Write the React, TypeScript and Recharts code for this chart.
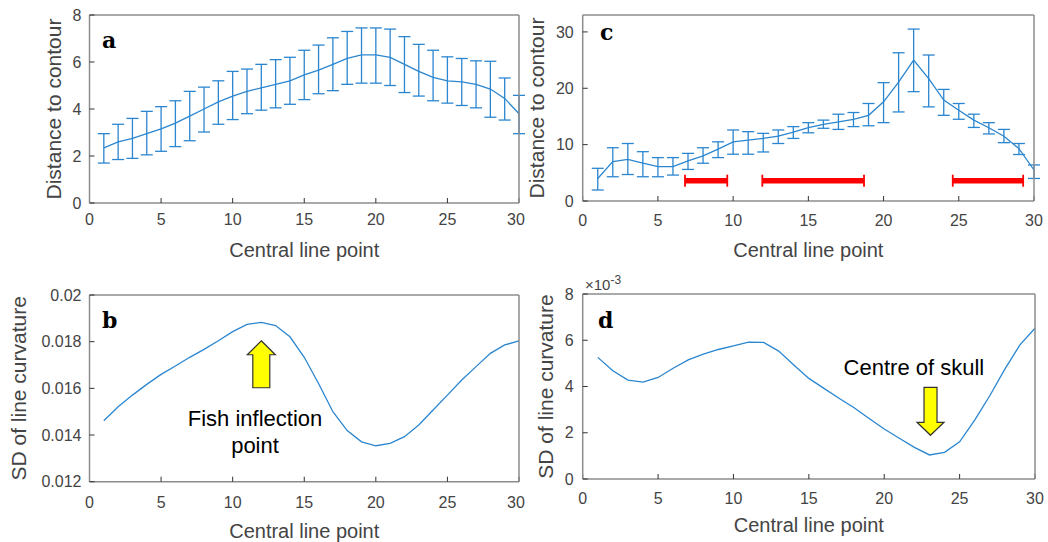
import React from "react";
import {
  LineChart,
  Line,
  XAxis,
  YAxis,
  ErrorBar,
  ReferenceLine,
  ReferenceDot,
} from "recharts";

// central line points (x categories)
const centralPoints = [
  1, 2, 3, 4, 5, 6, 7, 8, 9, 10, 11, 12, 13, 14, 15, 16, 17, 18, 19, 20, 21,
  22, 23, 24, 25, 26, 27, 28, 29, 30,
];
const xTicks = [0, 5, 10, 15, 20, 25, 30];

// panel a: distance to contour (mean, lower, upper)
const distMeanA = [
  2.35, 2.6, 2.75, 2.95, 3.15, 3.4, 3.7, 4.0, 4.3, 4.55, 4.75, 4.9, 5.05, 5.2,
  5.45, 5.65, 5.9, 6.15, 6.3, 6.3, 6.2, 5.9, 5.6, 5.35, 5.2, 5.15, 5.05, 4.85,
  4.45, 3.8,
];
const distLowA = [
  1.7, 1.85, 1.9, 2.05, 2.2, 2.4, 2.65, 3.02, 3.35, 3.55, 3.8, 3.95, 4.05, 4.2,
  4.4, 4.65, 4.78, 5.05, 5.1, 5.1, 5.0, 4.7, 4.55, 4.35, 4.25, 4.15, 4.05, 3.65,
  3.53, 2.95,
];
const distHighA = [
  2.95, 3.35, 3.6, 3.9, 4.1, 4.35, 4.75, 4.93, 5.2, 5.6, 5.7, 5.9, 6.1, 6.2,
  6.5, 6.72, 7.03, 7.3, 7.45, 7.45, 7.4, 7.08, 6.75, 6.5, 6.22, 6.15, 6.05,
  6.03, 5.32, 4.58,
];
const yTicksA = [0, 2, 4, 6, 8];

// panel c: distance to contour (mean, lower, upper)
const distMeanC = [
  4.0, 7.0, 7.4, 6.7, 6.1, 6.1, 7.1, 8.0, 9.2, 10.5, 10.8, 11.1, 11.5, 12.2,
  13.0, 13.6, 14.05, 14.5, 15.2, 17.6, 21.1, 25.0, 21.7, 17.9, 16.1, 14.35,
  13.0, 11.5, 9.3, 5.5,
];
const distLowC = [
  1.95, 4.3, 4.7, 4.3, 4.3, 4.6, 5.6, 6.7, 7.7, 8.3, 8.3, 8.7, 10.2, 11.1, 12.1,
  12.9, 12.7, 13.2, 13.35, 13.9, 15.8, 19.4, 16.7, 15.2, 14.5, 13.05, 11.9,
  10.35, 8.25, 4.0,
];
const distHighC = [
  5.8, 9.45, 10.2, 8.75, 7.7, 7.7, 8.45, 9.45, 10.5, 12.6, 12.3, 12.0, 12.6,
  13.2, 13.9, 14.35, 15.4, 15.7, 17.3, 21.0, 26.3, 30.5, 25.9, 19.8, 17.3, 15.4,
  13.9, 12.7, 10.2, 6.4,
];
const yTicksC = [0, 10, 20, 30];

// red segments in panel c
const redBarStart = [6.8, 11.94, 24.6];
const redBarEnd = [9.61, 18.7, 29.28];
const redBarLevel = 3.6;

// panel b: SD of line curvature
const curvB = [
  0.01461, 0.01521, 0.01571, 0.01617, 0.0166, 0.01696, 0.01733, 0.01767,
  0.01804, 0.01843, 0.01874, 0.01883, 0.01869, 0.01821, 0.01733, 0.01621,
  0.015, 0.01419, 0.01371, 0.01354, 0.01364, 0.01393, 0.01443, 0.01507,
  0.01571, 0.01636, 0.01693, 0.0175, 0.01786, 0.01803,
];
const yTicksB = [0.012, 0.014, 0.016, 0.018, 0.02];

// panel d: SD of line curvature, in units of 1e-3
const curvD = [
  5.26, 4.68, 4.28, 4.19, 4.39, 4.79, 5.15, 5.4, 5.6, 5.76, 5.92, 5.91, 5.53,
  4.93, 4.35, 3.92, 3.49, 3.08, 2.62, 2.16, 1.76, 1.37, 1.04, 1.15, 1.61, 2.55,
  3.6, 4.75, 5.8, 6.52,
];
const yTicksD = [0, 2, 4, 6, 8];

const rowsA = centralPoints.map((x, i) => ({
  x,
  mean: distMeanA[i],
  err: [distMeanA[i] - distLowA[i], distHighA[i] - distMeanA[i]],
}));
const rowsC = centralPoints.map((x, i) => ({
  x,
  mean: distMeanC[i],
  err: [distMeanC[i] - distLowC[i], distHighC[i] - distMeanC[i]],
}));
const rowsB = centralPoints.map((x, i) => ({ x, sd: curvB[i] }));
const rowsD = centralPoints.map((x, i) => ({ x, sd: curvD[i] }));

const FONT = '"Liberation Sans", Arial, Helvetica, sans-serif';
const TICK_COLOR = "#444444";
const BOX_COLOR = "#8c8c8c";
const BLUE = "#2b86d0";

interface FrameOpts {
  yTicks: number[];
  yDomain: [number, number];
  yWidth: number;
  xTickMargin: number;
  yTickMargin: number;
  xLabelOffset: number;
  yLabelOffset: number;
  yLabel: string;
}

// MATLAB style box: ticks inside on all four sides
function frame(o: FrameOpts) {
  const axisLine = { stroke: BOX_COLOR, strokeWidth: 1.5 };
  const tickLine = { stroke: "#333333", strokeWidth: 1 };
  const tick = { fill: TICK_COLOR, fontSize: 16, fontFamily: FONT };
  return [
    <XAxis
      key="xb"
      dataKey="x"
      type="number"
      domain={[0, 30]}
      ticks={xTicks}
      height={30}
      tickSize={-5}
      tickMargin={o.xTickMargin}
      axisLine={axisLine}
      tickLine={tickLine}
      tick={tick}
      label={{
        value: "Central line point",
        position: "bottom",
        offset: o.xLabelOffset,
        fill: TICK_COLOR,
        fontSize: 20,
        fontFamily: FONT,
      }}
    />,
    <XAxis
      key="xt"
      xAxisId="top"
      orientation="top"
      type="number"
      domain={[0, 30]}
      ticks={xTicks}
      height={1}
      tickSize={-5}
      axisLine={axisLine}
      tickLine={tickLine}
      tick={false}
    />,
    <YAxis
      key="yl"
      type="number"
      domain={o.yDomain}
      ticks={o.yTicks}
      width={o.yWidth}
      tickSize={-5}
      tickMargin={o.yTickMargin}
      axisLine={axisLine}
      tickLine={tickLine}
      tick={tick}
      label={{
        value: o.yLabel,
        angle: -90,
        position: "insideLeft",
        offset: o.yLabelOffset,
        fill: TICK_COLOR,
        fontSize: 21,
        fontFamily: FONT,
        style: { textAnchor: "middle" },
      }}
    />,
    <YAxis
      key="yr"
      yAxisId="right"
      orientation="right"
      type="number"
      domain={o.yDomain}
      ticks={o.yTicks}
      width={1}
      tickSize={-5}
      axisLine={axisLine}
      tickLine={tickLine}
      tick={false}
    />,
  ];
}

const UpArrow = (p: any) => {
  const { cx, cy } = p;
  const pts = [
    [0, 0], [14, 14], [8.5, 14], [8.5, 47], [-8.5, 47], [-8.5, 14], [-14, 14],
  ]
    .map(([dx, dy]) => `${cx + dx},${cy + dy}`)
    .join(" ");
  return <polygon points={pts} fill="#ffff00" stroke="#333" strokeWidth={1.2} />;
};

const DownArrow = (p: any) => {
  const { cx, cy } = p;
  const pts = [
    [0, 0], [13.5, -13], [6.5, -13], [6.5, -48], [-6.5, -48], [-6.5, -13], [-13.5, -13],
  ]
    .map(([dx, dy]) => `${cx + dx},${cy + dy}`)
    .join(" ");
  return <polygon points={pts} fill="#ffff00" stroke="#333" strokeWidth={1.2} />;
};

const note = (lines: string[]) => (p: any) => (
  <text
    x={p.cx}
    y={p.cy}
    textAnchor="middle"
    fontSize={22}
    fontFamily={FONT}
    fill="#000"
  >
    {lines.map((l, i) => (
      <tspan key={l} x={p.cx} dy={i === 0 ? 0 : 27}>
        {l}
      </tspan>
    ))}
  </text>
);

const RedBar = (p: any) => (
  <g>
    <line x1={p.x1} y1={p.y1} x2={p.x2} y2={p.y2} stroke="#ff0000" strokeWidth={5.5} />
    <line x1={p.x1} y1={p.y1 - 6} x2={p.x1} y2={p.y1 + 6} stroke="#ff0000" strokeWidth={1.8} />
    <line x1={p.x2} y1={p.y2 - 6} x2={p.x2} y2={p.y2 + 6} stroke="#ff0000" strokeWidth={1.8} />
  </g>
);

const letterStyle: React.CSSProperties = {
  position: "absolute",
  fontFamily: '"DejaVu Serif", "Liberation Serif", serif',
  fontWeight: "bold",
  fontSize: 22,
  lineHeight: 1,
  color: "#000",
};

export default function App() {
  return (
    <div
      style={{
        position: "absolute",
        left: 0,
        top: 0,
        width: 1048,
        height: 542,
        background: "#fff",
        overflow: "hidden",
      }}
    >
      <style>{"svg { overflow: visible; }"}</style>

      {/* panel a */}
      <div style={{ position: "absolute", left: 0, top: 0 }}>
        <LineChart
          width={524}
          height={270}
          data={rowsA}
          margin={{ top: 14, right: 4, bottom: 37, left: 0 }}
        >
          {frame({
            yTicks: yTicksA,
            yDomain: [0, 8],
            yWidth: 89.5,
            xTickMargin: 15.5,
            yTickMargin: 13,
            xLabelOffset: 10,
            yLabelOffset: 54,
            yLabel: "Distance to contour",
          })}
          <Line
            type="linear"
            dataKey="mean"
            stroke={BLUE}
            strokeWidth={1.3}
            dot={false}
            isAnimationActive={false}
          >
            <ErrorBar dataKey="err" direction="y" width={6} stroke={BLUE} strokeWidth={1.3} />
          </Line>
        </LineChart>
      </div>

      {/* panel c */}
      <div style={{ position: "absolute", left: 524, top: 0 }}>
        <LineChart
          width={524}
          height={270}
          data={rowsC}
          margin={{ top: 14, right: 13, bottom: 39, left: 0 }}
        >
          {frame({
            yTicks: yTicksC,
            yDomain: [0, 33],
            yWidth: 58.7,
            xTickMargin: 19,
            yTickMargin: 14,
            xLabelOffset: 12,
            yLabelOffset: 12.5,
            yLabel: "Distance to contour",
          })}
          {redBarStart.map((s, i) => (
            <ReferenceLine
              key={i}
              segment={[
                { x: s, y: redBarLevel },
                { x: redBarEnd[i], y: redBarLevel },
              ]}
              shape={RedBar}
            />
          ))}
          <Line
            type="linear"
            dataKey="mean"
            stroke={BLUE}
            strokeWidth={1.3}
            dot={false}
            isAnimationActive={false}
          >
            <ErrorBar dataKey="err" direction="y" width={6} stroke={BLUE} strokeWidth={1.3} />
          </Line>
        </LineChart>
      </div>

      {/* panel b */}
      <div style={{ position: "absolute", left: 0, top: 270 }}>
        <LineChart
          width={524}
          height={272}
          data={rowsB}
          margin={{ top: 24, right: 4, bottom: 30.3, left: 0 }}
        >
          {frame({
            yTicks: yTicksB,
            yDomain: [0.012, 0.02],
            yWidth: 89.5,
            xTickMargin: 20,
            yTickMargin: 13,
            xLabelOffset: 12.3,
            yLabelOffset: 19,
            yLabel: "SD of line curvature",
          })}
          <Line
            type="linear"
            dataKey="sd"
            stroke={BLUE}
            strokeWidth={1.3}
            dot={false}
            isAnimationActive={false}
          />
          <ReferenceDot x={12} y={0.01804} r={0} shape={UpArrow} />
          <ReferenceDot
            x={11.56}
            y={0.0144}
            r={0}
            shape={note(["Fish inflection", "point"])}
          />
        </LineChart>
      </div>

      {/* panel d */}
      <div style={{ position: "absolute", left: 524, top: 270 }}>
        <LineChart
          width={524}
          height={272}
          data={rowsD}
          margin={{ top: 23, right: 12, bottom: 33, left: 0 }}
        >
          {frame({
            yTicks: yTicksD,
            yDomain: [0, 8],
            yWidth: 58.7,
            xTickMargin: 19,
            yTickMargin: 14,
            xLabelOffset: 9,
            yLabelOffset: 21.7,
            yLabel: "SD of line curvature",
          })}
          <Line
            type="linear"
            dataKey="sd"
            stroke={BLUE}
            strokeWidth={1.3}
            dot={false}
            isAnimationActive={false}
          />
          <ReferenceDot x={23.07} y={1.89} r={0} shape={DownArrow} />
          <ReferenceDot
            x={21.97}
            y={4.5}
            r={0}
            shape={note(["Centre of skull"])}
          />
        </LineChart>
      </div>

      {/* exponent of panel d */}
      <div
        style={{
          position: "absolute",
          left: 585,
          top: 274,
          fontFamily: FONT,
          fontSize: 15,
          color: TICK_COLOR,
          lineHeight: 1,
          whiteSpace: "nowrap",
        }}
      >
        ×10<span style={{ fontSize: 12, verticalAlign: 6 }}>-3</span>
      </div>

      <div style={{ ...letterStyle, left: 102, top: 29 }}>a</div>
      <div style={{ ...letterStyle, left: 600, top: 21 }}>c</div>
      <div style={{ ...letterStyle, left: 102, top: 309 }}>b</div>
      <div style={{ ...letterStyle, left: 598, top: 309 }}>d</div>
    </div>
  );
}
